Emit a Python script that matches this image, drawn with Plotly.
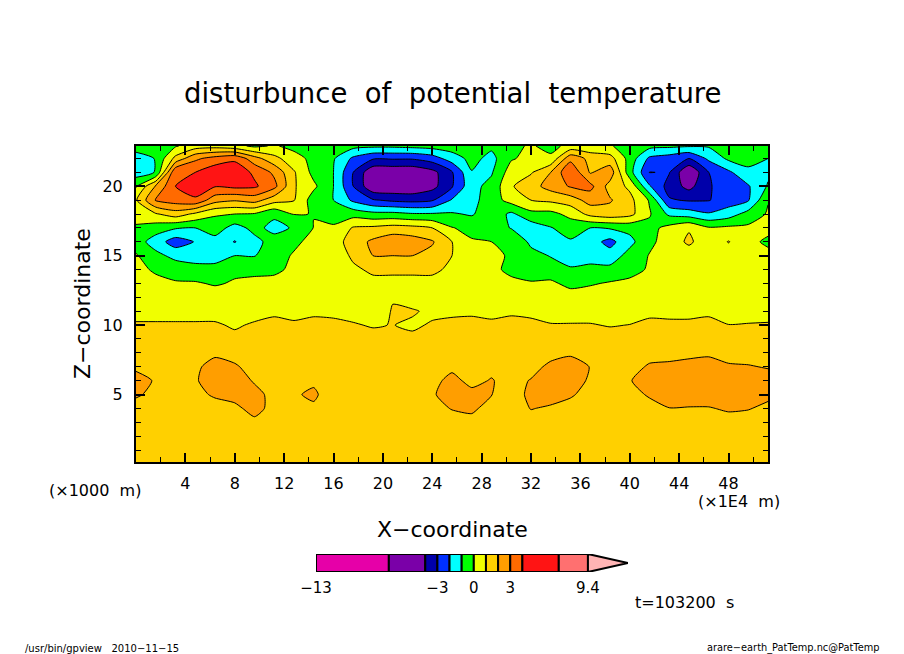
import numpy as np
import plotly.graph_objects as go

# === dados ===
x_vals = [0, 1.6, 3.2, 4.8, 6.4, 8, 9.6, 11.2, 12.8, 14.4, 16, 17.6, 19.2, 20.8, 22.4, 24, 25.6,
          27.2, 28.8, 30.4, 32, 33.6, 35.2, 36.8, 38.4, 40, 41.6, 43.2, 44.8, 46.4, 48, 49.6, 51.2]
y_vals = [0.14, 1, 2, 3, 4, 5, 6, 7, 8, 9, 10, 11, 12, 13, 14, 15, 16, 17, 18, 19, 20, 21, 22, 22.9]

z_0 = [1.5] * 33
z_1 = [1.5] * 33
z_2 = [1.5] * 33
z_3 = [1.6,1.6,1.6,1.6,1.6,1.6,1.8,1.6,1.6,1.6,1.6,1.6,1.6,1.6,1.6,1.6,1.75,1.75,1.6,1.6,1.7,1.6,1.6,1.6,1.6,1.6,1.6,1.6,1.6,1.6,1.7,1.6,1.6]
z_4 = [1.7,1.7,1.7,1.7,1.7,1.8,2.3,1.7,1.85,1.85,1.6,1.6,1.6,1.6,1.6,1.8,2.03,2.15,1.7,1.6,2.03,1.9,1.7,1.6,1.6,1.6,1.7,1.98,1.95,1.95,2.1,2.05,1.8]
z_5 = [2.1,1.8,1.7,1.8,2.1,2.3,2.3,1.7,1.9,2.15,1.5,1.6,1.6,1.6,1.6,1.9,2.4,2.2,2.02,1.6,2.2,2.3,2.1,1.7,1.6,1.7,2.1,2.4,2.4,2.4,2.4,2.4,2.2]
z_6 = [2.4,1.9,1.7,1.9,2.5,2.5,1.9,1.6,1.7,1.85,1.6,1.6,1.6,1.6,1.6,1.8,2.2,1.8,2.05,1.7,2.05,2.5,2.5,1.85,1.6,1.95,2.4,2.4,2.5,2.5,2.4,2.4,2.3]
z_7 = [1.8,1.7,1.7,1.8,2.4,2.1,1.7,1.6,1.6,1.6,1.6,1.6,1.6,1.6,1.6,1.7,1.85,1.7,1.8,1.6,1.7,2.2,2.3,1.98,1.6,1.7,2.1,2.15,2.2,2.25,2.1,2.05,1.95]
z_8 = [1.6,1.6,1.6,1.6,1.8,1.7,1.6,1.6,1.6,1.6,1.6,1.6,1.6,1.6,1.6,1.6,1.7,1.6,1.6,1.6,1.6,1.7,1.9,1.7,1.6,1.6,1.7,1.75,1.85,1.9,1.7,1.7,1.7]
z_9 = [1.4,1.4,1.4,1.4,1.4,1.2,1.4,1.4,1.4,1.4,1.4,1.4,1.2,1.2,1.2,1.4,1.4,1.4,1.4,1.4,1.4,1.4,1.4,1.4,1.2,1.4,1.4,1.4,1.4,1.4,1.4,1.4,1.4]
z_10 = [1.1,1.1,1.1,1.1,1.1,0.9,1.1,1.3,1.1,1.3,1.2,1.05,0.95,1.02,0.85,1.1,1.25,1.35,1.15,1.4,1.2,1.03,1.03,1.03,0.97,1.01,1.2,1.15,1.15,1.3,1.01,1.03,1.05]
z_11 = [0.7,0.7,0.7,0.7,0.7,0.7,0.7,0.8,0.8,0.8,0.8,0.8,0.6,1.05,1.1,0.8,0.8,0.8,0.8,0.8,0.8,0.8,0.8,0.8,0.8,0.8,0.8,0.8,0.8,0.8,0.8,0.8,0.8]
z_12 = [0.5,0.5,0.5,0.5,0.5,0.5,0.5,0.55,0.55,0.6,0.6,0.6,0.6,0.95,0.5,0.6,0.6,0.6,0.55,0.5,0.5,0.5,0.5,0.5,0.5,0.5,0.5,0.5,0.5,0.5,0.5,0.5,0.5]
z_13 = [0.3,0.2,0.1,0.1,-0.1,0.1,0.2,0.3,0.4,0.5,0.5,0.6,0.7,0.7,0.7,0.7,0.7,0.4,0.3,0.1,0.1,0.2,-0.3,-0.1,0.1,0.2,0.4,0.4,0.4,0.4,0.4,0.4,0.4]
z_14 = [0.2,-0.1,-0.4,-0.6,-0.6,-0.2,-0.2,-0.2,0.2,0.3,0.3,0.8,1.2,1.2,1.2,1.2,0.8,0.2,0.1,-0.1,-0.5,-0.6,-0.9,-0.8,-0.7,-0.3,0.1,0.4,0.4,0.4,0.4,0.4,0.4]
z_15 = [0.1,-0.7,-1.3,-1.5,-1.5,-1.0,-1.05,-0.4,0.1,0.3,0.3,1.2,2.0,2.0,2.0,1.7,1.0,0.2,0.1,-0.05,-0.7,-1.05,-1.4,-1.3,-1.6,-0.6,0.05,0.3,0.4,0.3,0.4,0.3,0.3]
z_16 = [-0.5,-1.5,-2.5,-1.95,-1.4,-2.05,-1.3,-0.6,-0.2,0.3,0.5,1.5,2.2,2.7,2.5,2.1,1.0,0.1,0.0,-0.2,-1.2,-1.6,-1.1,-1.6,-2.3,-1.3,-0.2,0.4,1.2,0.3,1.05,0.3,-0.2]
z_17 = [-0.1,-0.5,-0.9,-1.0,-0.5,-1.4,-0.7,-1.3,-0.9,0.03,0.1,1.1,1.2,1.4,1.3,1.0,0.05,-0.3,-0.5,-1.05,-1.6,-1.05,-0.6,-1.0,-0.9,-0.7,-0.3,0.3,0.9,0.1,0.2,0.2,0.3]
z_18 = [0.3,0.9,1.5,0.8,0.1,0.0,-0.1,-0.8,0.05,-0.02,-0.3,-0.4,-0.7,-0.7,-0.9,-0.9,-0.9,-1.1,-0.4,-1.2,-0.3,-0.3,0.3,1.3,1.6,1.3,0.1,-1.2,-1.5,-1.9,-1.5,-0.6,0.1]
z_19 = [0.9,3.1,3.5,3.8,2.4,2.1,2.4,1.4,1.05,-0.5,-1.0,-2.2,-2.9,-3.2,-3.3,-3.1,-1.9,-1.3,-0.5,0.4,1.0,1.2,1.5,2.4,2.1,1.3,-0.1,-2.9,-3.1,-3.05,-2.5,-2.1,-0.05]
z_20 = [-0.1,2.1,4.0,6.0,4.2,4.8,4.5,3.3,1.1,0.2,-1.0,-3.0,-6.5,-6.5,-6.5,-5.0,-3.1,-1.3,-0.7,0.9,1.6,2.4,3.1,3.3,1.6,0.8,-1.9,-3.4,-5.0,-3.1,-2.5,-2.1,-0.9]
z_21 = [-1.5,-0.95,3.9,4.0,6.0,6.0,3.8,2.8,1.1,-0.3,-1.0,-3.0,-6.5,-6.5,-6.5,-5.0,-3.1,-1.05,-1.1,0.5,0.9,2.0,3.9,1.9,2.6,-0.6,-3.02,-2.95,-7.0,-3.0,-2.2,-1.2,-1.2]
z_22 = [-1.5,-0.95,1.3,2.8,3.4,3.8,2.4,1.3,0.4,-0.3,-0.9,-2.2,-2.9,-2.9,-2.9,-2.5,-1.5,-0.7,-1.3,-0.1,0.3,0.2,2.7,1.7,1.4,-0.4,-2.2,-2.5,-3.0,-1.8,-0.8,-0.7,-1.0]
z_23 = [-0.5,-0.5,-0.1,0.5,0.6,0.3,-0.2,0.1,-0.3,-0.5,-0.6,-0.7,-0.8,-0.8,-0.7,-0.6,-0.5,-0.5,-0.8,-0.2,0.1,-0.3,0.3,0.2,0.1,-0.5,-0.7,-0.8,-0.9,-0.9,-0.5,-0.3,-0.2]

# niveis e cores da escala
levels = [-13, -7, -4, -3, -2, -1, 0, 1, 2, 3, 4, 7, 9.4]
tip_end = 12.7
colors = ["#e600a8", "#7a00a8", "#0000aa", "#0030ff", "#00ffff", "#00ff00", "#f0ff00",
          "#ffd000", "#ff9e00", "#ff6a00", "#ff1414", "#ff7070", "#ffb4b4"]
bar_ticks = [-13, -3, 0, 3, 9.4]
bar_labels = ["\u221213", "\u22123", "0", "3", "9.4"]

W, H = 904, 654
FONT = "DejaVu Sans"

z = np.array([z_0, z_1, z_2, z_3, z_4, z_5, z_6, z_7, z_8, z_9, z_10, z_11, z_12, z_13, z_14,
              z_15, z_16, z_17, z_18, z_19, z_20, z_21, z_22, z_23])
# contour so aceita passo constante: passa os valores para o indice do nivel
z_idx = np.interp(z, levels + [tip_end], np.arange(len(levels) + 1))

n = len(colors)
scale = []
for i, c in enumerate(colors):
    scale.append([i / n, c])
    scale.append([(i + 1) / n, c])

fig = go.Figure()
fig.add_trace(go.Contour(
    x=x_vals, y=y_vals, z=z_idx,
    zmin=0, zmax=n, colorscale=scale, showscale=False,
    contours=dict(start=0, end=n, size=1, coloring="fill"),
    line=dict(color="black", width=1, smoothing=0.6),
    hoverinfo="skip",
))

# barra de cores
for i in range(len(levels) - 1):
    fig.add_trace(go.Bar(
        x=[levels[i + 1] - levels[i]], y=[0.5], base=[levels[i]], width=1, orientation="h",
        marker=dict(color=colors[i], line=dict(color="black", width=2)),
        xaxis="x2", yaxis="y2", showlegend=False, hoverinfo="skip",
    ))
fig.add_trace(go.Scatter(
    x=[levels[-1], tip_end, levels[-1], levels[-1]], y=[1, 0.5, 0, 1], mode="lines",
    fill="toself", fillcolor=colors[-1], line=dict(color="black", width=2),
    xaxis="x2", yaxis="y2", showlegend=False, hoverinfo="skip", cliponaxis=False,
))


def txt(x, y, text, size, **kw):
    fig.add_annotation(x=x / W, y=1 - y / H, xref="paper", yref="paper", text=text, showarrow=False,
                       xanchor="center", yanchor="middle",
                       font=dict(family=FONT, size=size, color="black"), **kw)


txt(452, 93, "disturbunce  of  potential  temperature", 27.5)
txt(452, 529, "X\u2212coordinate", 22)
txt(83, 304, "Z\u2212coordinate", 22, textangle=-90)
txt(95, 490, "(\u00d71000  m)", 16)
txt(739, 501, "(\u00d71E4  m)", 16)
txt(684, 602, "t=103200  s", 16)
txt(102, 648, "/usr/bin/gpview   2010\u221211\u221215", 10)
txt(793, 648, "arare\u2212earth_PatTemp.nc@PatTemp", 9.8)

fig.update_layout(
    width=W, height=H, margin=dict(l=0, r=0, t=0, b=0, autoexpand=False),
    paper_bgcolor="white", plot_bgcolor="white", barmode="overlay",
    showlegend=False, font=dict(family=FONT, color="black"),
    xaxis=dict(
        domain=[136 / W, 768 / W], range=[0, 51.2], tickmode="array",
        tickvals=[4, 8, 12, 16, 20, 24, 28, 32, 36, 40, 44, 48],
        ticks="inside", ticklen=9, tickwidth=2, tickcolor="black",
        minor=dict(ticks="inside", dtick=2, ticklen=5, tickwidth=1, tickcolor="black"),
        showline=True, linewidth=2, linecolor="black", mirror="ticks", showgrid=False, zeroline=False,
        tickfont=dict(size=16), ticklabelstandoff=6,
    ),
    yaxis=dict(
        domain=[1 - 462 / H, 1 - 146 / H], range=[0.14, 22.9], tickmode="array",
        tickvals=[5, 10, 15, 20],
        ticks="inside", ticklen=9, tickwidth=2, tickcolor="black",
        minor=dict(ticks="inside", dtick=1, ticklen=5, tickwidth=1, tickcolor="black"),
        showline=True, linewidth=2, linecolor="black", mirror="ticks", showgrid=False, zeroline=False,
        tickfont=dict(size=16), ticklabelstandoff=8,
    ),
    xaxis2=dict(
        domain=[316 / W, 628 / W], range=[levels[0], tip_end], anchor="y2", tickmode="array",
        tickvals=bar_ticks, ticktext=bar_labels, ticks="", tickfont=dict(size=15),
        showgrid=False, zeroline=False, showline=False, ticklabelstandoff=5,
    ),
    yaxis2=dict(
        domain=[1 - 572 / H, 1 - 554 / H], range=[0, 1], anchor="x2",
        showticklabels=False, ticks="", showgrid=False, zeroline=False, showline=False,
    ),
)

fig.write_html("out.html", config=dict(displayModeBar=False),
               post_script="document.body.style.margin='0';document.body.style.overflow='hidden';")
